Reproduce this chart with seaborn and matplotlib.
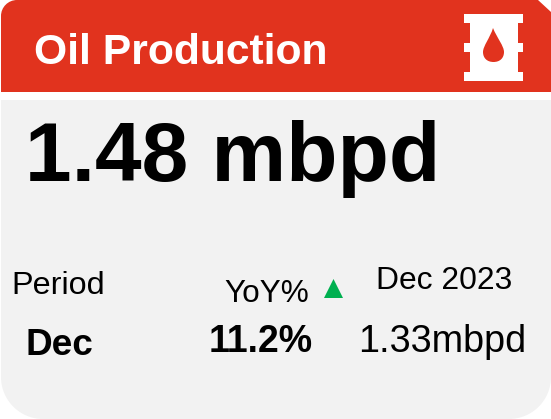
import matplotlib
matplotlib.use("Agg")
import matplotlib.pyplot as plt
from matplotlib.patches import PathPatch, Polygon
from matplotlib.path import Path
import seaborn as sns

title = "Oil Production"
value = "1.48 mbpd"
period_label = "Period"
period_value = "Dec"
yoy_label = "YoY%"
yoy_value = "11.2%"
prev_label = "Dec 2023"
prev_value = "1.33mbpd"

sns.set_theme(style="white")
plt.rcParams['font.family'] = ['Liberation Sans', 'DejaVu Sans']

RED = "#e1331e"
GREY = "#f2f2f2"
GREEN = "#00b050"
K = 0.5523


def card_shape(pts, color, zorder=1):
    # pts: (x, y, corner radius), corners drawn as circular arcs
    verts, codes = [], []
    n = len(pts)
    for i, (x, y, r) in enumerate(pts):
        px, py, _ = pts[i - 1]
        nx, ny, _ = pts[(i + 1) % n]
        d1 = ((px - x) ** 2 + (py - y) ** 2) ** 0.5
        d2 = ((nx - x) ** 2 + (ny - y) ** 2) ** 0.5
        a = (x + (px - x) / d1 * r, y + (py - y) / d1 * r)
        b = (x + (nx - x) / d2 * r, y + (ny - y) / d2 * r)
        verts.append(a)
        codes.append(Path.MOVETO if i == 0 else Path.LINETO)
        if r > 0:
            c1 = (a[0] + (x - a[0]) * K, a[1] + (y - a[1]) * K)
            c2 = (b[0] + (x - b[0]) * K, b[1] + (y - b[1]) * K)
            verts += [c1, c2, b]
            codes += [Path.CURVE4] * 3
    verts.append(verts[0])
    codes.append(Path.CLOSEPOLY)
    ax.add_patch(PathPatch(Path(verts, codes), fc=color, ec="none", zorder=zorder))


fig = plt.figure(figsize=(5.51, 4.19), dpi=100, facecolor="white")
ax = fig.add_axes([0, 0, 1, 1])
ax.set_xlim(0, 551)
ax.set_ylim(419, 0)
ax.axis("off")

# header and body
card_shape([(1, 92, 0), (1, 0, 16), (538, 0, 0), (551, 12, 0), (551, 92, 0)], RED)
card_shape([(1, 100, 0), (551, 100, 0), (551, 419, 42), (1, 419, 42)], GREY)

# barrel icon
barrel = [(464, 14), (523, 14), (523, 23), (518, 23), (518, 43), (523, 43), (523, 52),
          (518, 52), (518, 72), (523, 72), (523, 81), (464, 81), (464, 72), (470, 72),
          (470, 52), (464, 52), (464, 43), (470, 43), (470, 23), (464, 23)]
ax.add_patch(Polygon(barrel, fc="white", ec="none", zorder=2))
drop = Path([(493, 28), (490, 38), (483, 46), (483, 52), (483, 58), (487, 62), (493.5, 62),
             (500, 62), (504, 58), (504, 52), (504, 46), (497, 38), (493, 28)],
            [Path.MOVETO] + [Path.CURVE4] * 12)
ax.add_patch(PathPatch(drop, fc=RED, ec="none", zorder=3))

# texts
ax.text(34, 64, title, fontsize=30.7, fontweight="bold", color="white", va="baseline", ha="left")
ax.text(25, 181, value, fontsize=60.4, fontweight="bold", color="black", va="baseline", ha="left")
ax.text(11.5, 294, period_label, fontsize=23.3, color="black", va="baseline", ha="left")
ax.text(26, 355, period_value, fontsize=26.6, fontweight="bold", color="black", va="baseline", ha="left")
ax.text(224.5, 302, yoy_label, fontsize=22.7, color="black", va="baseline", ha="left")
ax.text(208.5, 352, yoy_value, fontsize=27, fontweight="bold", color="black", va="baseline", ha="left")
ax.text(375.5, 289, prev_label, fontsize=22.9, color="black", va="baseline", ha="left")
ax.text(358.5, 352, prev_value, fontsize=27.2, color="black", va="baseline", ha="left")

# up arrow
ax.add_patch(Polygon([(324, 298), (343, 298), (333.5, 279)], fc=GREEN, ec="none", zorder=2))

fig.savefig("out.png", dpi=100)
